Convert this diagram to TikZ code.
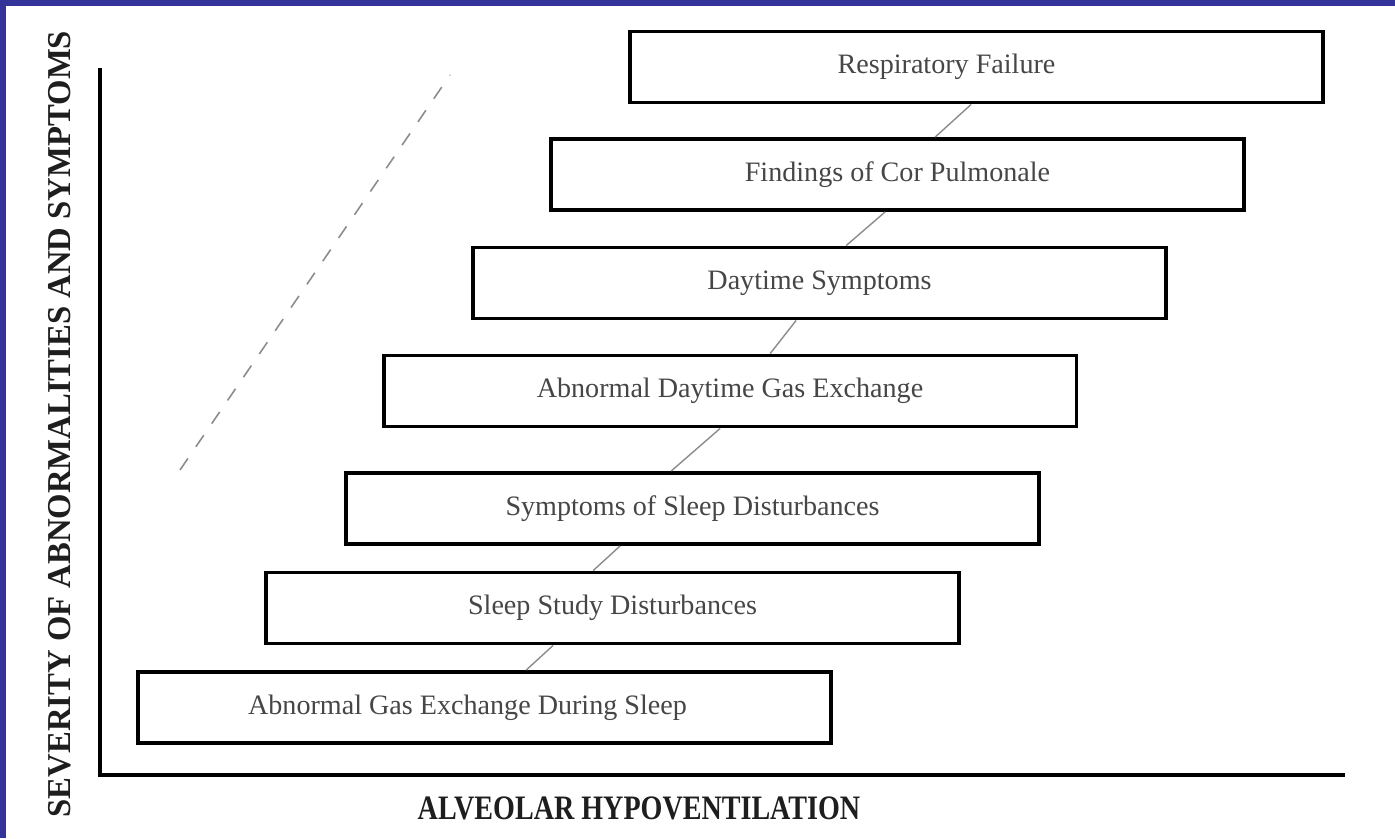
\documentclass[tikz,border=0pt]{standalone}
\usepackage{fontspec}
\setmainfont{Liberation Serif}
\usetikzlibrary{calc}
\definecolor{frameblue}{RGB}{51,51,153}
\definecolor{boxtext}{RGB}{70,70,70}
\definecolor{labeltext}{RGB}{30,30,30}
\tikzset{
  stagebox/.style={draw=black, line width=2.2pt, fill=white, minimum width=13.86cm, minimum height=1.42cm,
    inner sep=0pt, text=boxtext, font=\fontsize{16}{19}\selectfont},
  linkline/.style={draw=black!45, line width=0.8pt},
  axisline/.style={draw=black, line width=2.3pt},
  trendline/.style={draw=black!45, line width=0.9pt, dash pattern=on 8pt off 8pt},
  axislabel/.style={text=labeltext, inner sep=0pt}
}
\begin{document}
\begin{tikzpicture}[x=0.02cm, y=-0.02cm]
\useasboundingbox (0,0) rectangle (1395,838);
\fill[white] (0,0) rectangle (1395,838);
% blue frame (top and left)
\fill[frameblue] (0,0) rectangle (1395,6);
\fill[frameblue] (0,0) rectangle (6,838);

% axes
\coordinate (ytop) at (100,68);
\coordinate (orig) at (100,775);
\coordinate (xend) at (1345,775);
\draw[axisline] (ytop) -- (orig) -- (xend);

% dashed trend line
\coordinate (d1) at (180,470);
\coordinate (d2) at (450,75);
\draw[trendline] (d1) -- (d2);

% stages
\node[stagebox] (b1) at (976.5,67) {Respiratory Failure\hspace*{1.2cm}};
\node[stagebox] (b2) at (897.5,174.5) {Findings of Cor Pulmonale};
\node[stagebox] (b3) at (819.5,283) {Daytime Symptoms};
\node[stagebox] (b4) at (730,391) {Abnormal Daytime Gas Exchange};
\node[stagebox] (b5) at (692.5,508.5) {Symptoms of Sleep Disturbances};
\node[stagebox] (b6) at (612.5,608) {Sleep Study Disturbances};
\node[stagebox] (b7) at (484.5,707.5) {Abnormal Gas Exchange During Sleep\hspace*{0.68cm}};

% links
\draw[linkline] ($(b7.north west)+(390,0)$) -- ($(b6.south west)+(289,0)$);
\draw[linkline] ($(b6.north west)+(329,0)$) -- ($(b5.south west)+(276,0)$);
\draw[linkline] ($(b5.north west)+(327,0)$) -- ($(b4.south west)+(338.5,0)$);
\draw[linkline] ($(b4.north west)+(388.5,0)$) -- ($(b3.south west)+(325,0)$);
\draw[linkline] ($(b3.north west)+(375,0)$) -- ($(b2.south west)+(336,0)$);
\draw[linkline] ($(b2.north west)+(386,0)$) -- ($(b1.south west)+(343,0)$);

% axis labels
\node[axislabel, font=\bfseries\fontsize{19.5}{22}\selectfont] (xlab) at (639,808)
  {\scalebox{0.82}[1]{ALVEOLAR HYPOVENTILATION}};
\node[axislabel, rotate=90, font=\bfseries\fontsize{19}{22}\selectfont] (ylab) at (60,424)
  {\scalebox{0.98}[1]{SEVERITY OF ABNORMALITIES AND SYMPTOMS}};
\end{tikzpicture}
\end{document}
